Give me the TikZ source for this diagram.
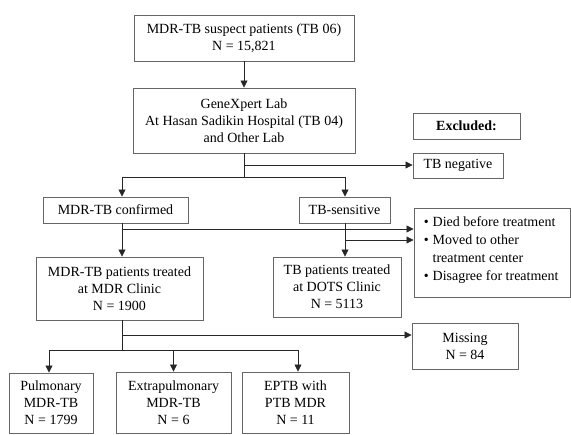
\documentclass[tikz,border=0pt]{standalone}
\usepackage{fontspec}
\setmainfont{Liberation Serif}
\usetikzlibrary{arrows.meta}
\begin{document}
\begin{tikzpicture}[x=1pt,y=-1pt,
  box/.style={draw=black!60, line width=0.9pt, align=center, inner sep=2pt, font=\fontsize{14}{17}\selectfont},
  conn/.style={draw=black!85, line width=0.8pt},
  arr/.style={conn, -{Triangle[length=7pt,width=7pt]}}]
\useasboundingbox (0,0) rectangle (571,435);
\node[box, minimum width=220pt, minimum height=46pt] (b1) at (244,38) {MDR-TB suspect patients (TB 06)\\N = 15,821};
\node[box, minimum width=222pt, minimum height=65pt] (b2) at (244,120.5) {GeneXpert Lab\\At Hasan Sadikin Hospital (TB 04)\\and Other Lab};
\node[box, minimum width=107pt, minimum height=26pt, font=\fontsize{14}{17}\selectfont\bfseries] (exc) at (466.5,126) {Excluded:};
\node[box, minimum width=90pt, minimum height=25pt] (neg) at (458,165.5) {TB negative};
\node[box, minimum width=145pt, minimum height=26pt] (conf) at (115.5,210) {MDR-TB confirmed};
\node[box, minimum width=91pt, minimum height=26pt] (sens) at (344.5,210) {TB-sensitive};
\node[box, minimum width=156pt, minimum height=89pt] (list) at (492,252.5) {};
\node[anchor=north west, inner sep=0pt, font=\fontsize{14}{18}\selectfont] (listtxt) at ([xshift=10pt,yshift=-6pt]list.north west)
 {\begin{tabular}{@{}l@{\hspace{4pt}}l@{}}\textbullet & Died before treatment\\ \textbullet & Moved to other\\ & treatment center\\ \textbullet & Disagree for treatment\end{tabular}};
\node[box, minimum width=167pt, minimum height=63pt] (mdrp) at (119.5,288.5) {MDR-TB patients treated\\at MDR Clinic\\N = 1900};
\node[box, minimum width=128pt, minimum height=60pt] (tbp) at (337,287) {TB patients treated\\at DOTS Clinic\\N = 5113};
\node[box, minimum width=106pt, minimum height=46pt] (miss) at (465,346) {Missing\\N = 84};
\node[box, minimum width=84pt, minimum height=60pt] (pul) at (51,403) {Pulmonary\\MDR-TB\\N = 1799};
\node[box, minimum width=115pt, minimum height=61pt] (ext) at (173.5,402.5) {Extrapulmonary\\MDR-TB\\N = 6};
\node[box, minimum width=107pt, minimum height=61pt] (eptb) at (295.5,402.5) {EPTB with\\PTB MDR\\N = 11};
% junction coordinates
\coordinate (j1) at (244,177);
\coordinate (jl) at (122,177);
\coordinate (jr) at (345,177);
\coordinate (jn) at (244,165);
\coordinate (jc) at (122,229);
\coordinate (js) at (345,240);
\coordinate (jm) at (122,335);
\coordinate (jb) at (122,350);
\coordinate (jbl) at (49,350);
\coordinate (jbr) at (298,350);
% connectors
\draw[arr] (b1) -- (b2);
\draw[conn] (b2.south -| j1) -- (j1);
\draw[arr] (jn) -- (neg.west |- jn);
\draw[conn] (jl) -- (jr);
\draw[arr] (jl) -- (conf.north -| jl);
\draw[arr] (jr) -- (sens.north -| jr);
\draw[arr] (conf.south -| jc) -- (mdrp.north -| jc);
\draw[arr] (jc) -- (list.west |- jc);
\draw[arr] (sens.south -| js) -- (tbp.north -| js);
\draw[arr] (js) -- (list.west |- js);
\draw[conn] (mdrp.south -| jb) -- (jb);
\draw[arr] (jm) -- (miss.west |- jm);
\draw[conn] (jbl) -- (jbr);
\draw[arr] (jbl) -- (pul.north -| jbl);
\draw[arr] (jb -| ext.north) -- (ext.north);
\draw[arr] (jbr) -- (eptb.north -| jbr);
\end{tikzpicture}
\end{document}
